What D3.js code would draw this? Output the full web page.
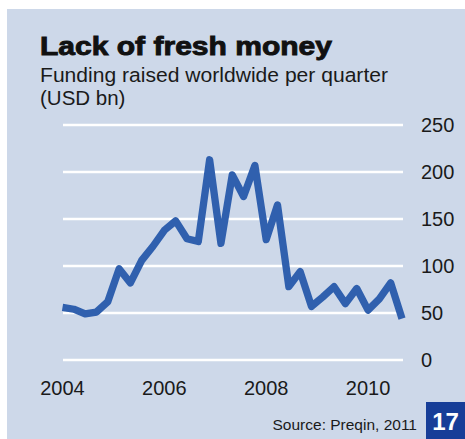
<!DOCTYPE html>
<html><head><meta charset="utf-8">
<script src="https://cdn.jsdelivr.net/npm/d3@7"></script>
<style>body{margin:0;background:#fff}svg{display:block}</style>
</head><body>
<svg id="c" width="465" height="439"></svg>
<script>
const values = [56,54,49,51,62,97,82,106,121,138,148,129,126,213,124,197,174,207,128,165,78,94,57,67,78,60,76,53,65,82,44];
const yTicks = [0,50,100,150,200,250];
const xTickIndex = [0,9,18,27];
const xTickLabels = ["2004","2006","2008","2010"];
const title = "Lack of fresh money";
const subtitle = ["Funding raised worldwide per quarter","(USD bn)"];
const source = "Source: Preqin, 2011";
const pageNo = "17";

const svg = d3.select("#c");
const font = "'Liberation Sans', Arial, sans-serif";
svg.append("rect").attr("x",7).attr("y",9).attr("width",458).attr("height",430).attr("fill","#cdd8e9");

const x = d3.scaleLinear().domain([0, values.length-1]).range([62.5, 402]);
const y = d3.scaleLinear().domain([0,250]).range([360,125]);

// grid
svg.append("g").selectAll("line").data(yTicks).join("line")
  .attr("x1",63).attr("x2",403).attr("y1",d=>y(d)).attr("y2",d=>y(d))
  .attr("stroke","#fff").attr("stroke-width",2.6);
svg.append("g").selectAll("text").data(yTicks).join("text")
  .attr("x",421).attr("y",d=>y(d)).attr("dy","0.36em")
  .attr("font-family",font).attr("font-size",20).attr("fill","#1a1a1a").text(d=>d);

svg.append("g").selectAll("text").data(xTickIndex).join("text")
  .attr("x",d=>x(d)).attr("y",395).attr("text-anchor","middle")
  .attr("font-family",font).attr("font-size",20).attr("fill","#1a1a1a").text((d,i)=>xTickLabels[i]);

const line = d3.line().x((d,i)=>x(i)).y(d=>y(d));
svg.append("path").datum(values).attr("d",line).attr("fill","none")
  .attr("stroke","#3060ae").attr("stroke-width",7.3).attr("stroke-linejoin","round").attr("stroke-linecap","butt");

svg.append("text").attr("x",40).attr("y",55).attr("font-family",font).attr("font-weight",900)
  .attr("font-size",25).attr("fill","#111").attr("stroke","#111").attr("stroke-width",0.9)
  .attr("textLength",292).attr("lengthAdjust","spacingAndGlyphs").text(title);
svg.append("g").selectAll("text").data(subtitle).join("text")
  .attr("x",40).attr("y",(d,i)=>82+i*23).attr("font-family",font).attr("font-size",20.5).attr("fill","#1a1a1a")
  .each(function(d,i){ if(i===0) d3.select(this).attr("textLength",348).attr("lengthAdjust","spacingAndGlyphs"); })
  .text(d=>d);

svg.append("text").attr("x",417).attr("y",430).attr("text-anchor","end")
  .attr("font-family",font).attr("font-size",15.5).attr("fill","#1a1a1a").text(source);
svg.append("rect").attr("x",426).attr("y",402).attr("width",39).attr("height",37).attr("fill","#173e98");
svg.append("text").attr("x",445.5).attr("y",430).attr("text-anchor","middle").attr("font-family",font)
  .attr("font-weight","bold").attr("font-size",24).attr("fill","#fff").text(pageNo);
</script>
</body></html>
